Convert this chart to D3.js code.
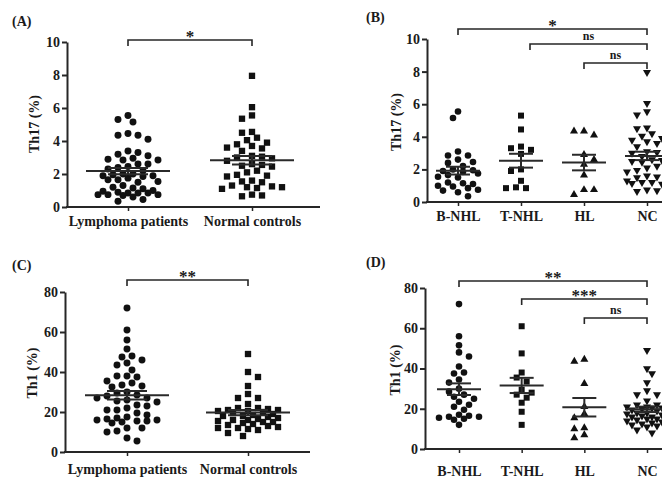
<!DOCTYPE html>
<html><head><meta charset="utf-8">
<script src="https://cdn.jsdelivr.net/npm/d3@7"></script>
<style>
body{margin:0;background:#fff}
svg{display:block}
text{font-family:"Liberation Serif","Times New Roman",serif;font-weight:bold;fill:#1a1a1a}
</style>
</head><body>
<svg id="c" width="662" height="479"></svg>
<script>
// ---------- data ----------
const groups2 = ["Lymphoma patients", "Normal controls"];
const groups4 = ["B-NHL", "T-NHL", "HL", "NC"];
const th17Ticks = [0, 2, 4, 6, 8, 10];
const th1Ticks = [0, 20, 40, 60, 80];

const th17BNHL = [5.55, 5.15, 3.1, 2.85, 2.85, 2.6, 2.45, 2.4, 2.2, 2.0, 1.95, 1.9, 1.85, 1.75, 1.65, 1.55, 1.5, 1.2, 1.15, 1.1, 1.0, 0.95, 0.85, 0.75, 0.7, 0.6, 0.35];
const th17TNHL = [5.3, 4.45, 3.4, 3.3, 3.2, 2.95, 2.0, 1.9, 1.3, 0.9, 0.85, 0.85];
const th17HL = [4.35, 4.35, 4.1, 2.9, 2.6, 2.3, 1.65, 0.75, 0.75, 0.45];
const th17NC = [7.95, 6.05, 5.55, 5.35, 4.55, 4.5, 4.2, 4.05, 3.9, 3.8, 3.7, 3.6, 3.55, 3.4, 3.1, 3.05, 3.0, 2.95, 2.8, 2.6, 2.55, 2.5, 2.45, 2.2, 2.1, 1.95, 1.9, 1.85, 1.6, 1.55, 1.5, 1.3, 1.25, 1.2, 1.2, 1.15, 1.1, 0.75, 0.7, 0.65];

const th1BNHL = [72, 56, 51.5, 48, 46, 41, 38, 37.5, 34.5, 33, 30, 28.5, 27, 26, 25, 23.5, 22, 21, 19.5, 17, 16.5, 16, 16, 15.5, 15, 14.5, 12];
const th1TNHL = [61, 47.5, 38, 35.5, 33.5, 29.5, 28, 27, 25.5, 23, 18.5, 12];
const th1HL = [44.5, 43.5, 32.5, 21, 17.5, 15.5, 10.5, 10, 7, 5.5];
const th1NC = [49, 40, 37.5, 33, 29, 27, 27, 24, 22, 22, 21.5, 21, 21, 20.5, 20.5, 20, 19.5, 19, 18.5, 18, 18, 17.5, 17, 16.5, 16, 16, 15.5, 15, 15, 14.5, 14, 13.5, 13, 12.5, 12, 12, 11.5, 11, 9.5, 8];

const th17Lymphoma = [...th17BNHL, ...th17TNHL, ...th17HL];
const th1Lymphoma = [...th1BNHL, ...th1TNHL, ...th1HL];

const sigA = [{from: 0, to: 1, label: "*"}];
const sigB = [{from: 0, to: 3, label: "*"}, {from: 1, to: 3, label: "ns"}, {from: 2, to: 3, label: "ns"}];
const sigC = [{from: 0, to: 1, label: "**"}];
const sigD = [{from: 0, to: 3, label: "**"}, {from: 1, to: 3, label: "***"}, {from: 2, to: 3, label: "ns"}];

// ---------- drawing ----------
const svg = d3.select("#c");
svg.append("rect").attr("width", 662).attr("height", 479).attr("fill", "#fff");
const INK = "#262626";

// bounded beeswarm: best free slot within maxHalf, else the least-overlapping slot
function swarm(vals, y, minDist, step, maxHalf) {
  const pts = vals.map(v => ({v, py: y(v)})).sort((a, b) => a.py - b.py);
  const placed = [];
  const nMax = Math.floor(maxHalf / step);
  pts.forEach((p, i) => {
    const cands = [0];
    for (let m = 1; m <= nMax; m++) {
      const s = i % 2 ? -1 : 1;
      cands.push(s * m * step, -s * m * step);
    }
    let best = null, bestD = -1;
    for (const dx of cands) {
      const d = placed.length ? Math.min(...placed.map(q => Math.hypot(q.dx - dx, q.py - p.py))) : Infinity;
      if (d >= minDist) { best = dx; break; }
      if (d > bestD) { bestD = d; best = dx; }
    }
    p.dx = best; placed.push(p);
  });
  return placed;
}

function panel(cfg) {
  const g = svg.append("g");
  const y = d3.scaleLinear().domain([0, cfg.ticks[cfg.ticks.length - 1]]).range([cfg.y0, cfg.y1]);
  const x = d3.scalePoint().domain(cfg.cats).range([cfg.xFirst, cfg.xLast]);

  // y axis
  const ay = g.append("g").attr("transform", `translate(${cfg.axisX},0)`)
    .call(d3.axisLeft(y).tickValues(cfg.ticks).tickSize(5).tickSizeOuter(0).tickPadding(2));
  ay.attr("font-family", null).attr("font-size", null);
  ay.select(".domain").attr("stroke", INK).attr("stroke-width", 2);
  ay.selectAll(".tick line").attr("stroke", INK).attr("stroke-width", 2);
  ay.selectAll(".tick text").attr("font-size", 14).attr("fill", "#1a1a1a");

  // x axis
  g.append("line").attr("x1", cfg.axisX - 1).attr("x2", cfg.xEnd)
    .attr("y1", cfg.y0).attr("y2", cfg.y0).attr("stroke", INK).attr("stroke-width", 2);
  const ax = g.append("g").attr("transform", `translate(0,${cfg.y0})`)
    .call(d3.axisBottom(x).tickSize(4).tickSizeOuter(0).tickPadding(cfg.labelPad));
  ax.attr("font-family", null).attr("font-size", null);
  ax.select(".domain").remove();
  ax.selectAll(".tick line").attr("stroke", INK).attr("stroke-width", 1.5);
  ax.selectAll(".tick text").attr("font-size", 14).attr("fill", "#1a1a1a");

  // y label
  g.append("text").attr("transform", `translate(${cfg.labelX},${cfg.labelY}) rotate(-90)`)
    .attr("text-anchor", "middle").attr("dy", "0.35em").attr("font-size", 14).text(cfg.yLabel);
  // panel tag
  g.append("text").attr("x", cfg.tagX).attr("y", cfg.tagY).attr("font-size", 14).text(cfg.tag);

  // points
  cfg.series.forEach((vals, i) => {
    const cx = x(cfg.cats[i]);
    const pts = swarm(vals, y, cfg.minDist, cfg.step, cfg.maxHalf);
    const sh = cfg.shapes[i];
    const type = sh === "circle" ? d3.symbolCircle : sh === "square" ? d3.symbolSquare : d3.symbolTriangle;
    const size = sh === "circle" ? cfg.circleSize : sh === "square" ? cfg.squareSize : cfg.triSize;
    const sym = d3.symbol().type(type).size(size);
    g.append("g").selectAll("path").data(pts).join("path")
      .attr("d", sym)
      .attr("transform", d => `translate(${cx + d.dx},${d.py})${sh === "down" ? " rotate(180)" : ""}`)
      .attr("fill", "#111");

    const mean = d3.mean(vals);
    const sem = d3.deviation(vals) / Math.sqrt(vals.length);
    const lg = g.append("g").attr("stroke", "#2a2a2a").attr("stroke-width", 2);
    lg.append("line").attr("x1", cx - cfg.meanHalf).attr("x2", cx + cfg.meanHalf).attr("y1", y(mean)).attr("y2", y(mean));
    lg.append("line").attr("x1", cx).attr("x2", cx).attr("y1", y(mean - sem)).attr("y2", y(mean + sem));
    [mean - sem, mean + sem].forEach(v => lg.append("line")
      .attr("x1", cx - cfg.capHalf).attr("x2", cx + cfg.capHalf).attr("y1", y(v)).attr("y2", y(v)));
  });

  // significance brackets
  cfg.sig.forEach((s, i) => {
    const yb = cfg.brackY[i];
    const x1 = x(cfg.cats[s.from]) + (cfg.brackShift ? cfg.brackShift[i] : 0);
    const x2 = x(cfg.cats[s.to]);
    g.append("path").attr("d", `M${x1},${yb + 6}V${yb}H${x2}V${yb + 6}`)
      .attr("fill", "none").attr("stroke", INK).attr("stroke-width", 1.6);
    const isNs = s.label === "ns";
    g.append("text").attr("x", (x1 + x2) / 2).attr("y", isNs ? yb - 4 : yb + 2)
      .attr("text-anchor", "middle").attr("font-size", isNs ? 12 : 17).text(s.label);
  });
}

const base2 = {cats: groups2, shapes: ["circle", "square"], minDist: 7.5, step: 5, maxHalf: 30,
  circleSize: 38, squareSize: 40, triSize: 26, meanHalf: 42, capHalf: 20};
const base4 = {cats: groups4, shapes: ["circle", "square", "up", "down"], minDist: 7, step: 5, maxHalf: 20,
  circleSize: 34, squareSize: 36, triSize: 28, meanHalf: 22, capHalf: 12};

panel(Object.assign({}, base2, {
  ticks: th17Ticks, y0: 207, y1: 42, axisX: 67, xEnd: 320, xFirst: 128, xLast: 252,
  labelPad: 5, labelX: 34, labelY: 124, yLabel: "Th17 (%)", tag: "(A)", tagX: 12, tagY: 26,
  series: [th17Lymphoma, th17NC], sig: sigA, brackY: [40]
}));
panel(Object.assign({}, base4, {
  ticks: th17Ticks, y0: 202, y1: 39, axisX: 427, xEnd: 662, xFirst: 458, xLast: 647,
  labelPad: 5, labelX: 396, labelY: 122, yLabel: "Th17 (%)", tag: "(B)", tagX: 366, tagY: 22,
  series: [th17BNHL, th17TNHL, th17HL, th17NC], sig: sigB, brackY: [29, 44, 63], brackShift: [0, 9, 0]
}));
panel(Object.assign({}, base2, {
  ticks: th1Ticks, y0: 452, y1: 292, axisX: 65, xEnd: 310, xFirst: 127, xLast: 248,
  labelPad: 8, labelX: 32, labelY: 373, yLabel: "Th1 (%)", tag: "(C)", tagX: 12, tagY: 270,
  series: [th1Lymphoma, th1NC], sig: sigC, brackY: [280]
}));
panel(Object.assign({}, base4, {
  ticks: th1Ticks, y0: 449, y1: 288, axisX: 425, xEnd: 662, xFirst: 459, xLast: 647,
  labelPad: 13, labelX: 395, labelY: 370, yLabel: "Th1 (%)", tag: "(D)", tagX: 366, tagY: 267,
  series: [th1BNHL, th1TNHL, th1HL, th1NC], sig: sigD, brackY: [281, 299, 318]
}));
</script>
</body></html>
